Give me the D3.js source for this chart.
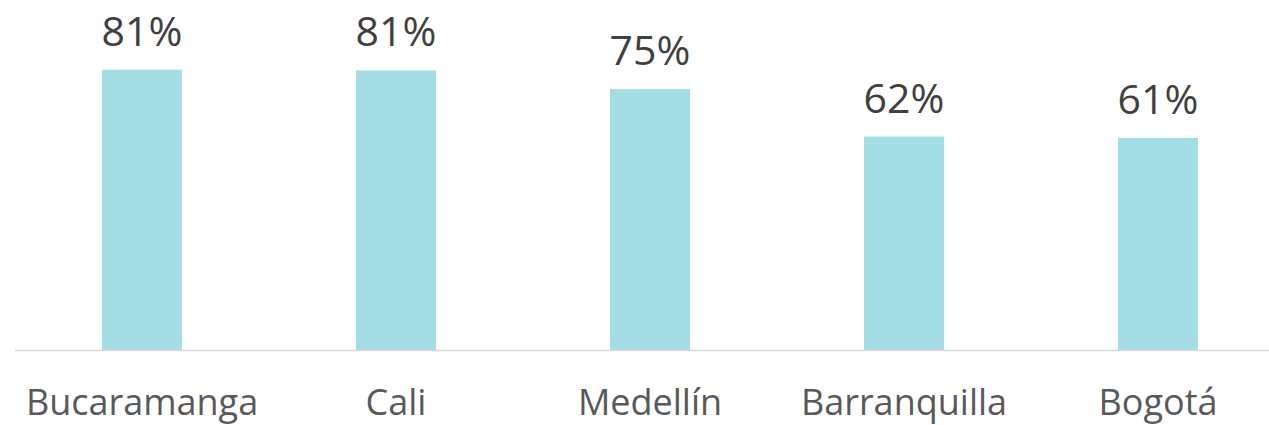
<!DOCTYPE html>
<html>
<head>
    <meta charset="utf-8">
    <title>Cities</title>
    <style>
        body { margin: 0; background: #fff; }
        svg text { font-family: "Open Sans", sans-serif; }
    </style>
    <script src="https://d3js.org/d3.v7.min.js"></script>
</head>
<body>
<div id="chart"></div>
<script>

var cities = ["Bucaramanga", "Cali", "Medellín", "Barranquilla", "Bogotá"];
var shares = [81.0, 80.8, 75.4, 61.7, 61.3];

var width = 1269, height = 425;
var baseY = 350;

var svg = d3.select('#chart').append('svg')
    .attr('width', width)
    .attr('height', height);

var x = d3.scaleBand()
    .domain(cities)
    .range([15, 1285])
    .paddingInner(0.685)
    .paddingOuter(0.3425);

var y = d3.scaleLinear()
    .domain([0, 100])
    .range([baseY, 4]);

var data = cities.map(function(c, i) { return { city: c, value: shares[i] }; });

// bars
svg.selectAll('rect.bar')
    .data(data)
    .enter().append('rect')
    .attr('class', 'bar')
    .attr('x', d => x(d.city))
    .attr('width', x.bandwidth())
    .attr('y', d => y(d.value))
    .attr('height', d => y(0) - y(d.value))
    .attr('fill', '#a5dde5');

// baseline
svg.append('line')
    .attr('x1', 15)
    .attr('x2', width)
    .attr('y1', baseY + 0.5)
    .attr('y2', baseY + 0.5)
    .attr('stroke', '#d9d9d9')
    .attr('stroke-width', 1.5);

// value labels
svg.selectAll('text.value')
    .data(data)
    .enter().append('text')
    .attr('class', 'value')
    .attr('x', d => x(d.city) + x.bandwidth() / 2)
    .attr('y', d => y(d.value) - 24)
    .attr('text-anchor', 'middle')
    .attr('font-size', 41)
    .attr('fill', '#404040')
    .text(d => d3.format('.0f')(d.value) + '%');

// category labels
var xAxis = d3.axisBottom(x).tickSize(0).tickPadding(0);
var gx = svg.append('g')
    .attr('transform', 'translate(0,' + baseY + ')')
    .call(xAxis);
gx.select('.domain').remove();
gx.selectAll('text')
    .attr('dy', null)
    .attr('y', 65)
    .attr('font-size', 36)
    .attr('font-family', '"Open Sans", sans-serif')
    .attr('fill', '#595959');

</script>
</body>
</html>
